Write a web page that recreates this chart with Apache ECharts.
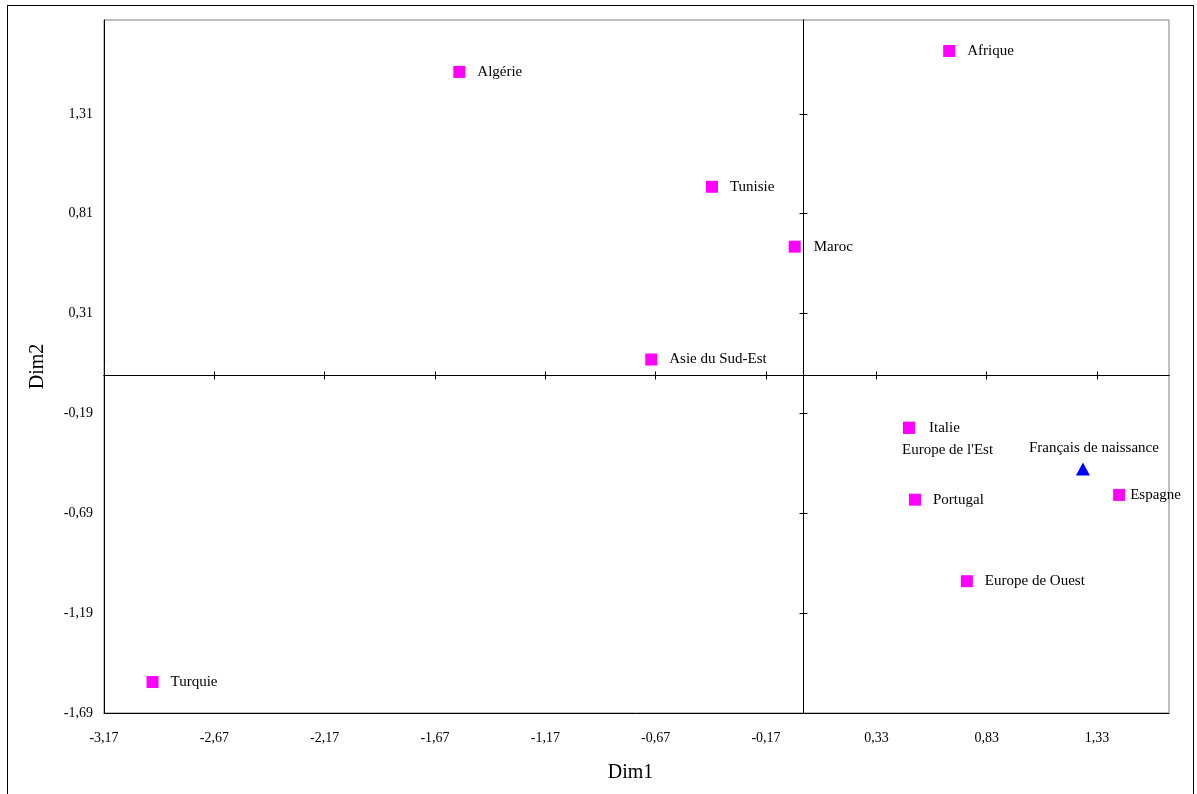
<!DOCTYPE html>
<html>
<head>
<meta charset="utf-8">
<script src="https://cdn.jsdelivr.net/npm/echarts@6/dist/echarts.min.js"></script>
<style>
html,body{margin:0;padding:0;background:#fff;}
#frame{position:absolute;left:7px;top:5px;width:1187px;height:820px;border:1px solid #000;box-sizing:border-box;}
#chart{position:absolute;left:0;top:0;width:1197px;height:794px;}
</style>
</head>
<body>
<div id="frame"></div>
<div id="chart"></div>
<script>
// ---- data ----
const countryNames = ['Algérie','Afrique','Tunisie','Maroc','Asie du Sud-Est','Italie','Europe de l\'Est','Portugal','Espagne','Europe de Ouest','Turquie'];
const countryDim1 = [-1.56, 0.66, -0.415, -0.04, -0.69, 0.478, 0.478, 0.505, 1.43, 0.74, -2.95];
const countryDim2 = [1.52, 1.625, 0.945, 0.645, 0.08, -0.262, -0.262, -0.622, -0.598, -1.03, -1.535];
const refNames = ['Français de naissance'];
const refDim1 = [1.266];
const refDim2 = [-0.468];
const xTickValues = [-3.17, -2.67, -2.17, -1.67, -1.17, -0.67, -0.17, 0.33, 0.83, 1.33];
const yTickValues = [-1.69, -1.19, -0.69, -0.19, 0.31, 0.81, 1.31];
const xMin = -3.17, xMax = 1.656, yMin = -1.69, yMax = 1.78, tickStep = 0.5;

// ---- layout / style ----
const FONT = '"Liberation Serif","DejaVu Serif",serif';
const labelDistance = {'Espagne': 5, 'Italie': 14, 'Maroc': 13};
const belowLabelNames = ["Europe de l'Est"];
const fmt = v => (Math.round(v * 100) / 100).toFixed(2).replace('.', ',');

const mainData = [], belowData = [];
countryNames.forEach((n, i) => {
  const d = {name: n, value: [countryDim1[i], countryDim2[i]]};
  if (belowLabelNames.includes(n)) { belowData.push(d); return; }
  if (labelDistance[n] !== undefined) d.label = {distance: labelDistance[n]};
  mainData.push(d);
});
const refData = refNames.map((n, i) => ({name: n, value: [refDim1[i], refDim2[i]]}));

const xInner = xTickValues.filter(v => v > xMin && v < xMax);
const yInner = yTickValues.filter(v => v > yMin && v < yMax);

const xBase = {type: 'value', min: xMin, max: xMax, interval: tickStep, splitLine: {show: false}};
const yBase = {type: 'value', min: yMin, max: yMax, interval: tickStep, splitLine: {show: false}};
const zeroLine = {show: true, onZero: true, lineStyle: {color: '#000', width: 1}};
const labelFont = {fontFamily: FONT, fontSize: 15, color: '#000'};
const zeroTick = vals => ({show: true, length: 4, customValues: vals, lineStyle: {color: '#000'}});

const chart = echarts.init(document.getElementById('chart'), null, {renderer: 'canvas'});
chart.setOption({
  animation: false,
  backgroundColor: 'transparent',
  grid: {left: 104, top: 20, right: 28, bottom: 81, show: true, borderColor: '#808080', borderWidth: 1, containLabel: false},
  xAxis: [
    Object.assign({}, xBase, {
      position: 'bottom',
      axisLine: {show: true, onZero: false, lineStyle: {color: '#000'}},
      axisTick: {show: false},
      axisLabel: {show: true, margin: 18, customValues: xTickValues, fontFamily: FONT, fontSize: 14, color: '#000', formatter: fmt},
      name: 'Dim1', nameLocation: 'middle', nameGap: 50,
      nameTextStyle: {fontFamily: FONT, fontSize: 20, color: '#000', padding: [0, 12, 0, 0]}
    }),
    Object.assign({}, xBase, {position: 'bottom', axisLine: zeroLine, axisTick: zeroTick(xInner), axisLabel: {show: false}}),
    Object.assign({}, xBase, {position: 'top', axisLine: zeroLine, axisTick: zeroTick(xInner), axisLabel: {show: false}})
  ],
  yAxis: [
    Object.assign({}, yBase, {
      position: 'left',
      axisLine: {show: true, onZero: false, lineStyle: {color: '#000'}},
      axisTick: {show: false},
      axisLabel: {show: true, margin: 11, customValues: yTickValues, fontFamily: FONT, fontSize: 14, color: '#000', formatter: fmt},
      name: 'Dim2', nameLocation: 'middle', nameGap: 56,
      nameTextStyle: {fontFamily: FONT, fontSize: 20, color: '#000'}
    }),
    Object.assign({}, yBase, {position: 'left', axisLine: zeroLine, axisTick: zeroTick(yInner), axisLabel: {show: false}}),
    Object.assign({}, yBase, {position: 'right', axisLine: zeroLine, axisTick: zeroTick(yInner), axisLabel: {show: false}})
  ],
  series: [
    {
      type: 'scatter', name: 'Pays-bas', xAxisIndex: 0, yAxisIndex: 0,
      symbol: 'rect', symbolSize: 12,
      itemStyle: {color: '#FF00FF', opacity: 1},
      label: Object.assign({show: true, position: 'inside', align: 'left', verticalAlign: 'middle', offset: [-7, 22], formatter: '{b}'}, labelFont),
      emphasis: {disabled: true},
      data: belowData
    },
    {
      type: 'scatter', name: 'Pays', xAxisIndex: 0, yAxisIndex: 0,
      symbol: 'rect', symbolSize: 12,
      itemStyle: {color: '#FF00FF', opacity: 1},
      label: Object.assign({show: true, position: 'right', distance: 12, formatter: '{b}'}, labelFont),
      labelLayout: {hideOverlap: false},
      emphasis: {disabled: true},
      data: mainData
    },
    {
      type: 'scatter', name: 'Ref', xAxisIndex: 0, yAxisIndex: 0,
      symbol: 'triangle', symbolSize: [14, 13],
      itemStyle: {color: '#0000FF', opacity: 1},
      label: Object.assign({show: true, position: 'inside', offset: [11, -21], formatter: '{b}'}, labelFont),
      emphasis: {disabled: true},
      data: refData
    }
  ]
});
</script>
</body>
</html>
